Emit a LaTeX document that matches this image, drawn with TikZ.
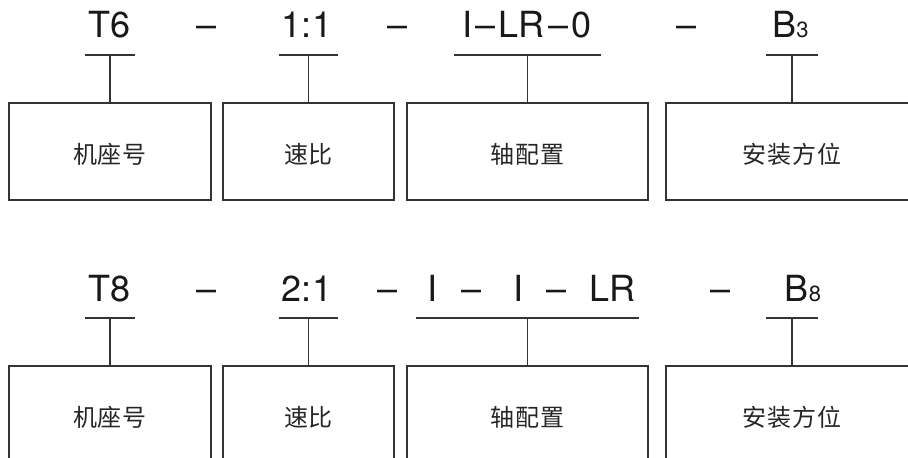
\documentclass[tikz,border=0pt]{standalone}
\usepackage{fontspec}
\setmainfont{TeX Gyre Heros}
\newfontfamily\cjk[LetterSpace=4]{Noto Sans CJK SC}
\tikzset{
	code/.style={anchor=base,inner sep=0pt,text=black!90,font=\fontsize{36}{36}\selectfont},
	part/.style={rectangle,draw=black!80,line width=1.2pt,minimum height=97pt,inner sep=0pt,text height=26pt,text depth=2pt,text=black!85,font=\cjk\fontsize{24}{24}\selectfont},
	bar/.style={inner sep=0pt,minimum height=0pt,minimum width=#1},
	wire/.style={draw=black!80,line width=1.2pt},
}
\newcommand{\idx}[1]{{\fontsize{22}{22}\selectfont #1}}
\begin{document}
\begin{tikzpicture}[x=1pt,y=-1pt]
	\useasboundingbox (0,0) rectangle (908,458);
	\clip (0,0) rectangle (908,458);
	% first example
	\node[code] (t6) at (110,37) {T6};
	\node[code] (d1) at (206.5,37) {–};
	\node[code] (r11) at (307,37) {1:1};
	\node[code] (d2) at (397.5,37) {–};
	\node[code] (ax1) at (527,37) {I\kern3pt–\kern3pt LR\kern3pt–\kern3pt0};
	\node[code] (d3) at (687,37) {–};
	\node[code] (b3) at (790.5,37) {B\idx{3}};
	\node[bar=49pt] (k1) at (110,55) {};
	\node[bar=59pt] (k2) at (308.5,55) {};
	\node[bar=147pt] (k3) at (527.5,55) {};
	\node[bar=52pt] (k4) at (792,55) {};
	\node[part,minimum width=202pt] (p1) at (110,151.5) {机座号};
	\node[part,minimum width=171pt] (p2) at (308.5,151.5) {速比};
	\node[part,minimum width=241pt] (p3) at (527.5,151.5) {轴配置};
	\node[part,minimum width=252pt] (p4) at (792,151.5) {安装方位};
	\foreach \k/\p in {k1/p1,k2/p2,k3/p3,k4/p4}{
		\draw[wire] (\k.west) -- (\k.east) (\k.center) -- (\p.north);
	}
	% second example
	\node[code] (t8) at (110,301) {T8};
	\node[code] (e1) at (206.5,301) {–};
	\node[code] (r21) at (307,301) {2:1};
	\node[code] (e2) at (388,301) {–};
	\node[code] (i1) at (433,301) {I};
	\node[code] (e3) at (471.5,301) {–};
	\node[code] (i2) at (518,301) {I};
	\node[code] (e4) at (556.5,301) {–};
	\node[code] (lr) at (612.5,301) {LR};
	\node[code] (e5) at (720.5,301) {–};
	\node[code] (b8) at (803,301) {B\idx{8}};
	\node[bar=49pt] (m1) at (110,318) {};
	\node[bar=59pt] (m2) at (308.5,318) {};
	\node[bar=223pt] (m3) at (527.5,318) {};
	\node[bar=52pt] (m4) at (792,318) {};
	\node[part,minimum width=202pt] (q1) at (110,414.5) {机座号};
	\node[part,minimum width=171pt] (q2) at (308.5,414.5) {速比};
	\node[part,minimum width=241pt] (q3) at (527.5,414.5) {轴配置};
	\node[part,minimum width=252pt] (q4) at (792,414.5) {安装方位};
	\foreach \m/\q in {m1/q1,m2/q2,m3/q3,m4/q4}{
		\draw[wire] (\m.west) -- (\m.east) (\m.center) -- (\q.north);
	}
\end{tikzpicture}
\end{document}
